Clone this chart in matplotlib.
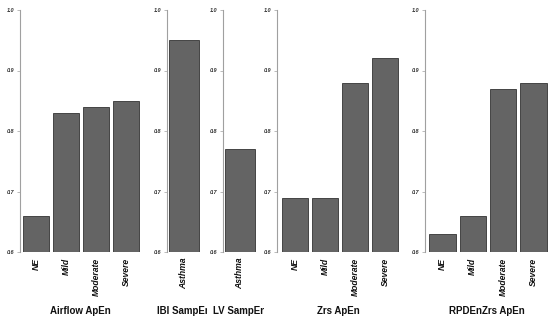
import matplotlib.pyplot as plt
from matplotlib.transforms import Bbox, TransformedBbox

# data
severity = ["NE", "Mild", "Moderate", "Severe"]
asthma = ["Asthma"]
airflow_apen = [0.66, 0.83, 0.84, 0.85]
ibi_sampen = [0.95]
lv_sampen = [0.77]
zrs_apen = [0.69, 0.69, 0.88, 0.92]
rpden_zrs_apen = [0.63, 0.66, 0.87, 0.88]

W, H = 550, 321
fig = plt.figure(figsize=(W / 100, H / 100), dpi=100)
plt.rcParams['font.family'] = ['Liberation Sans', 'DejaVu Sans']

bar_col = "#646464"
edge_col = "#333333"
axis_col = "#a0a0a0"

# (x0 px, x1 px, xlim, width, labels, values, title, title clip right px)
panels = [
    (20, 140, (-0.53, 3.47), 0.85, severity, airflow_apen, "Airflow ApEn", None),
    (167, 201, (-0.52, 0.52), 0.92, asthma, ibi_sampen, "IBI SampEn", 207),
    (223, 257, (-0.52, 0.52), 0.92, asthma, lv_sampen, "LV SampEn", 263.5),
    (277, 400, (-0.6, 3.5), 0.85, severity, zrs_apen, "Zrs ApEn", None),
    (425, 548, (-0.57, 3.47), 0.87, severity, rpden_zrs_apen, "RPDEnZrs ApEn", None),
]

y_top, y_bot = 10, 252
for x0, x1, xl, bw, labels, vals, title, clip_r in panels:
    ax = fig.add_axes([x0 / W, 1 - y_bot / H, (x1 - x0) / W, (y_bot - y_top) / H])
    xs = list(range(len(vals)))
    ax.bar(xs, [v - 0.6 for v in vals], bottom=0.6, width=bw,
           color=bar_col, edgecolor=edge_col, linewidth=0.6)
    ax.set_xlim(*xl)
    ax.set_ylim(0.6, 1.0)
    ax.set_yticks([0.6, 0.7, 0.8, 0.9, 1.0])
    ax.set_yticklabels(["0.6", "0.7", "0.8", "0.9", "1.0"],
                       fontsize=4, fontweight="bold", fontstyle="italic",
                       color="#333333")
    ax.tick_params(axis="y", length=2.5, width=0.5, color=axis_col, pad=1.5)
    ax.set_xticks(xs)
    ax.set_xticklabels(labels, rotation=90, fontsize=6.2, fontweight="bold",
                       fontstyle="italic", color="#111111")
    ax.tick_params(axis="x", length=0, pad=4)
    for s in ["top", "right", "bottom"]:
        ax.spines[s].set_visible(False)
    ax.spines["left"].set_color(axis_col)
    ax.spines["left"].set_linewidth(0.8)

    t = fig.text((x0 + x1) / 2 / W, 1 - 311 / H, title, ha="center", va="center",
                 fontsize=7, fontweight="bold", color="#111111")
    if clip_r is not None:
        t.set_clip_box(TransformedBbox(Bbox.from_extents(0, 0, clip_r / W, 0.2),
                                       fig.transFigure))
        t.set_clip_on(True)

fig.savefig("out.png", dpi=100)
